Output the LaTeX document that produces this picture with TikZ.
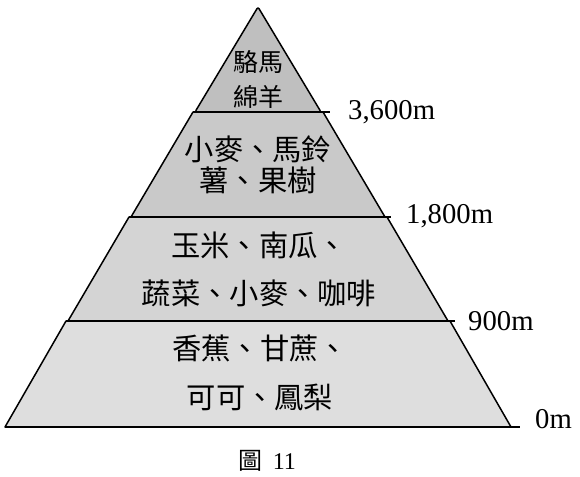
\documentclass[tikz,border=0pt]{standalone}
\usepackage{fontspec}
\setmainfont{Liberation Serif}
\newfontfamily\cjk{Noto Sans CJK TC}
\begin{document}
\begin{tikzpicture}[x=1pt, y=-1pt,
  tier/.style={draw=black, line width=1.5pt, line join=round},
  ledge/.style={line width=2pt},
  crops/.style={font=\cjk\fontsize{29.3}{48}\selectfont, align=center, inner sep=0pt},
  height/.style={anchor=base west, font=\fontsize{28.7}{30}\selectfont, inner sep=0pt}]
\useasboundingbox (0,0) rectangle (580,476);
% Shade the four altitude zones, top to bottom.
\filldraw[tier, fill=black!25, rounded corners=2pt] (258,7) -- (195,112) -- (321,112) -- cycle;
\filldraw[tier, fill=black!21] (193,112) -- (323,112) -- (385,217) -- (131,217) -- cycle;
\filldraw[tier, fill=black!17] (129,217) -- (387,217) -- (448,321) -- (68,321) -- cycle;
\filldraw[tier, fill=black!13] (66,321) -- (450,321) -- (511,427) -- (5,427) -- cycle;
% Draw the altitude lines, a little past the right side.
\draw[ledge] (193,112) -- (330,112);
\draw[ledge] (129,217) -- (391,217);
\draw[ledge] (66,321) -- (455,321);
\draw[ledge] (5,427) -- (520,427);
% Label the altitudes.
\node[height] (h3600) at (348,120) {3,600m};
\node[height] (h1800) at (406,223) {1,800m};
\node[height] (h900) at (468,330) {900m};
\node[height] (h0) at (535,428) {0m};
% Annotate the crops of each zone.
\node[crops, font=\cjk\fontsize{25}{35}\selectfont] (alpine) at (258,79.5) {駱馬\\綿羊};
\node[crops, font=\cjk\fontsize{29.3}{31}\selectfont] (cold) at (258,164.5) {小麥、馬鈴\\薯、果樹};
\node[crops] (temperate) at (259,269) {玉米、南瓜、\\蔬菜、小麥、咖啡};
\node[crops, font=\cjk\fontsize{29.3}{49}\selectfont] (tropical) at (260,372.5) {香蕉、甘蔗、\\可可、鳳梨};
% Caption.
\node[font=\fontsize{24}{26}\selectfont] (caption) at (267,461) {{\cjk 圖}\hspace{0.45em}11};
\end{tikzpicture}
\end{document}
